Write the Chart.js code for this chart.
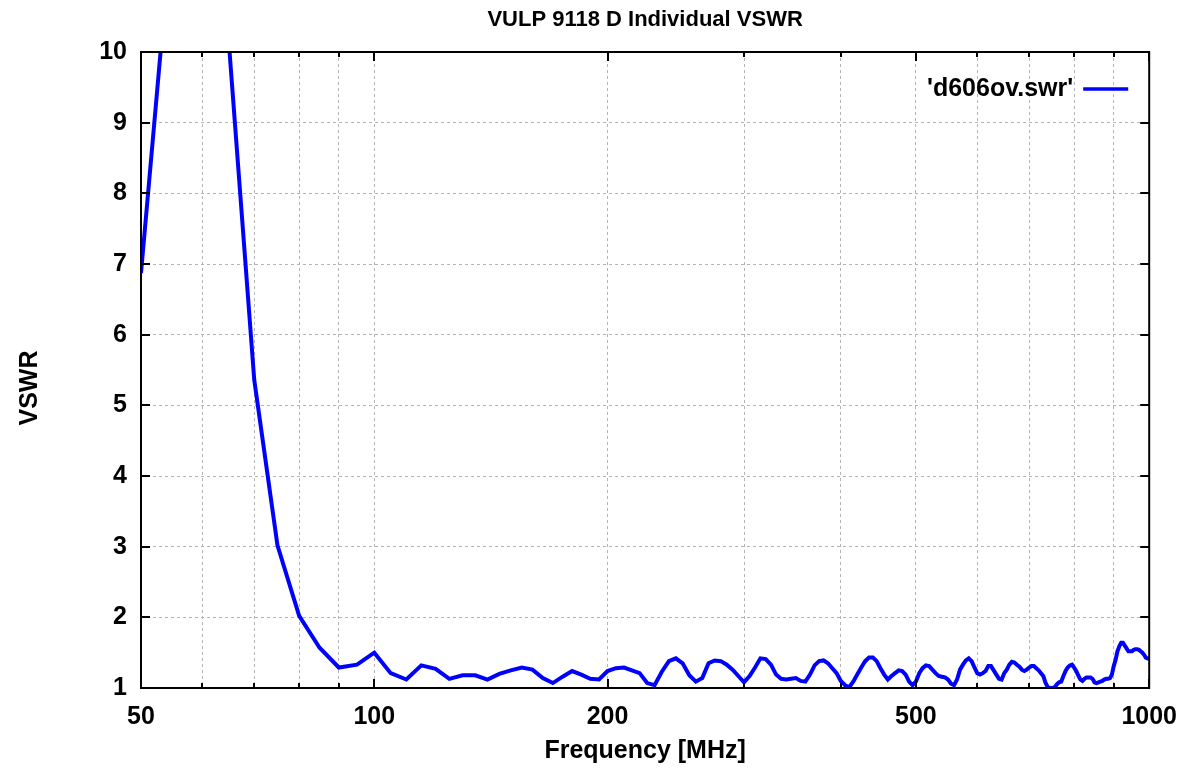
<!DOCTYPE html>
<html>
<head>
<meta charset="utf-8">
<title>VULP 9118 D Individual VSWR</title>
<script src="https://cdn.jsdelivr.net/npm/chart.js@4.4.1/dist/chart.umd.min.js"></script>
<style>
  html, body { margin: 0; padding: 0; background: #ffffff; }
  #wrap { width: 1191px; height: 771px; }
</style>
</head>
<body>
<div id="wrap"><canvas id="vswrChart" width="1191" height="771"></canvas></div>
<script>
/* ============================================================
   VULP 9118 D — individual VSWR sweep (gnuplot look-alike)
   ============================================================ */

/* ── Data (5 MHz steps) ──────────────────────────────────── */
const FREQ_MHZ = [
   50,  55,  60,  65,  70,  75,  80,  85,  90,  95,
  100, 105, 110, 115, 120, 125, 130, 135, 140, 145,
  150, 155, 160, 165, 170, 175, 180, 185, 190, 195,
  200, 205, 210, 215, 220, 225, 230, 235, 240, 245,
  250, 255, 260, 265, 270, 275, 280, 285, 290, 295,
  300, 305, 310, 315, 320, 325, 330, 335, 340, 345,
  350, 355, 360, 365, 370, 375, 380, 385, 390, 395,
  400, 405, 410, 415, 420, 425, 430, 435, 440, 445,
  450, 455, 460, 465, 470, 475, 480, 485, 490, 495,
  500, 505, 510, 515, 520, 525, 530, 535, 540, 545,
  550, 555, 560, 565, 570, 575, 580, 585, 590, 595,
  600, 605, 610, 615, 620, 625, 630, 635, 640, 645,
  650, 655, 660, 665, 670, 675, 680, 685, 690, 695,
  700, 705, 710, 715, 720, 725, 730, 735, 740, 745,
  750, 755, 760, 765, 770, 775, 780, 785, 790, 795,
  800, 805, 810, 815, 820, 825, 830, 835, 840, 845,
  850, 855, 860, 865, 870, 875, 880, 885, 890, 895,
  900, 905, 910, 915, 920, 925, 930, 935, 940, 945,
  950, 955, 960, 965, 970, 975, 980, 985, 990, 995,
  1000
];

const VSWR = [
  6.87, 12.0, 14.5, 10.05, 5.36, 3.02, 2.02, 1.57, 1.29, 1.33,
  1.50, 1.21, 1.12, 1.32, 1.27, 1.13, 1.18, 1.18, 1.12, 1.20,
  1.25, 1.29, 1.26, 1.14, 1.07, 1.16, 1.24, 1.19, 1.13, 1.12,
  1.24, 1.28, 1.29, 1.25, 1.21, 1.07, 1.04, 1.23, 1.38, 1.42,
  1.35, 1.18, 1.09, 1.14, 1.35, 1.39, 1.38, 1.33, 1.26, 1.17,
  1.08, 1.17, 1.29, 1.42, 1.41, 1.33, 1.19, 1.13, 1.12, 1.13,
  1.14, 1.10, 1.09, 1.19, 1.32, 1.38, 1.39, 1.35, 1.28, 1.21,
  1.10, 1.04, 1.01, 1.09, 1.19, 1.29, 1.38, 1.43, 1.43, 1.38,
  1.28, 1.19, 1.12, 1.17, 1.21, 1.25, 1.24, 1.19, 1.09, 1.04,
  1.09, 1.21, 1.28, 1.32, 1.31, 1.26, 1.21, 1.17, 1.16, 1.15,
  1.12, 1.06, 1.04, 1.12, 1.26, 1.33, 1.39, 1.42, 1.38, 1.29,
  1.21, 1.19, 1.21, 1.24, 1.31, 1.31, 1.25, 1.19, 1.13, 1.12,
  1.21, 1.26, 1.33, 1.37, 1.36, 1.33, 1.30, 1.26, 1.24, 1.26,
  1.29, 1.31, 1.31, 1.28, 1.25, 1.21, 1.17, 1.07, 1.01, 1.00,
  1.00, 1.01, 1.05, 1.08, 1.09, 1.17, 1.24, 1.29, 1.32, 1.33,
  1.29, 1.24, 1.18, 1.12, 1.10, 1.13, 1.15, 1.15, 1.15, 1.13,
  1.08, 1.07, 1.08, 1.09, 1.10, 1.12, 1.13, 1.13, 1.14, 1.19,
  1.31, 1.40, 1.52, 1.59, 1.64, 1.64, 1.60, 1.56, 1.52, 1.52,
  1.52, 1.54, 1.55, 1.55, 1.54, 1.52, 1.50, 1.47, 1.43, 1.42,
  1.41
];

/* log axis: every tic gets a grid line, only these get a label */
const X_TICKS  = [50, 60, 70, 80, 90, 100, 200, 300, 400, 500, 600, 700, 800, 900, 1000];
const X_LABELS = [50, 100, 200, 500, 1000];
const Y_TICKS  = [1, 2, 3, 4, 5, 6, 7, 8, 9, 10];

const SERIES_LABEL = "'d606ov.swr'";
const Y_TITLE = 'VSWR';

const GP = {
  line: '#0000ff',
  grid: '#b4b4b4',
  frame: '#000000',
  text: '#000000',
  font: "'Liberation Sans', Arial, Helvetica, sans-serif",
  size: 25
};

Chart.defaults.font.family = GP.font;
Chart.defaults.font.size = GP.size;
Chart.defaults.font.weight = 'bold';
Chart.defaults.color = GP.text;

/* ── Frame, inward tics, ylabel and the key (gnuplot style) ─ */
const gnuplotFrame = {
  id: 'gnuplotFrame',
  afterDraw(chart) {
    const { ctx, chartArea: a, scales: { x, y } } = chart;
    ctx.save();
    ctx.strokeStyle = GP.frame;
    ctx.lineWidth = 2;
    ctx.strokeRect(a.left, a.top, a.right - a.left, a.bottom - a.top);

    ctx.beginPath();
    X_TICKS.forEach(v => {
      const px = Math.round(x.getPixelForValue(v));
      const len = X_LABELS.includes(v) ? 9 : 5;
      ctx.moveTo(px, a.bottom); ctx.lineTo(px, a.bottom - len);
      ctx.moveTo(px, a.top);    ctx.lineTo(px, a.top + len);
    });
    Y_TICKS.forEach(v => {
      const py = Math.round(y.getPixelForValue(v));
      ctx.moveTo(a.left, py);  ctx.lineTo(a.left + 9, py);
      ctx.moveTo(a.right, py); ctx.lineTo(a.right - 9, py);
    });
    ctx.stroke();

    ctx.font = `bold ${GP.size}px ${GP.font}`;
    ctx.fillStyle = GP.text;
    ctx.textBaseline = 'middle';

    // ylabel sits a bit below the middle of the plot, as gnuplot puts it
    ctx.save();
    ctx.translate(30, (a.top + a.bottom) / 2 + 18);
    ctx.rotate(-Math.PI / 2);
    ctx.textAlign = 'center';
    ctx.fillText(Y_TITLE, 0, 0);
    ctx.restore();

    // key, top right inside the plot
    const ds = chart.data.datasets[0];
    const ky = a.top + 37;
    ctx.textAlign = 'right';
    ctx.fillText(ds.label, a.right - 76, ky);
    ctx.strokeStyle = ds.borderColor;
    ctx.lineWidth = 3.5;
    ctx.beginPath();
    ctx.moveTo(a.right - 66, ky);
    ctx.lineTo(a.right - 21, ky);
    ctx.stroke();
    ctx.restore();
  }
};

/* ── Chart ───────────────────────────────────────────────── */
new Chart(document.getElementById('vswrChart'), {
  type: 'line',
  data: {
    datasets: [{
      label: SERIES_LABEL,
      data: FREQ_MHZ.map((f, i) => ({ x: f, y: VSWR[i] })),
      borderColor: GP.line,
      borderWidth: 4,
      pointRadius: 0,
      tension: 0,
      fill: false
    }]
  },
  options: {
    responsive: false,
    animation: false,
    layout: { padding: { left: 0, right: 40, top: 0, bottom: 0 } },
    plugins: {
      legend: { display: false },
      tooltip: { enabled: false },
      title: {
        display: true,
        text: 'VULP 9118 D Individual VSWR',
        fullSize: false,
        font: { size: 22, weight: 'bold' },
        padding: { top: 7, bottom: 18.6 }
      }
    },
    scales: {
      x: {
        type: 'logarithmic',
        min: 50, max: 1000,
        afterBuildTicks: s => { s.ticks = X_TICKS.map(v => ({ value: v })); },
        afterFit: s => { s.height = 83; },
        ticks: {
          autoSkip: false, maxRotation: 0, padding: 14,
          callback: v => X_LABELS.includes(v) ? String(v) : ''
        },
        grid: { color: GP.grid, lineWidth: 1, drawTicks: false },
        border: { display: false, dash: [3, 3] },
        title: { display: true, text: 'Frequency [MHz]', padding: { top: 0, bottom: 5 } }
      },
      y: {
        min: 1, max: 10,
        afterBuildTicks: s => { s.ticks = Y_TICKS.map(v => ({ value: v })); },
        afterFit: s => { s.width = 141; },
        ticks: { padding: 14 },
        grid: { color: GP.grid, lineWidth: 1, drawTicks: false },
        border: { display: false, dash: [3, 3] }
      }
    }
  },
  plugins: [gnuplotFrame]
});
</script>
</body>
</html>
